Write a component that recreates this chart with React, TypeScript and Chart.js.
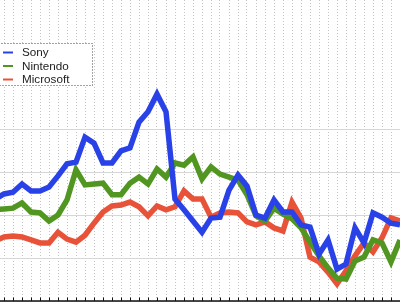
import React, { useEffect, useRef } from "react";
import { Chart, registerables } from "chart.js";

Chart.register(...registerables);

// Positions along the x axis (one step per period; -1 lies just off the left edge)
const periods: number[] = [
  -1, 0, 1, 2, 3, 4, 5, 6, 7, 8, 9, 10, 11, 12, 13, 14, 15, 16, 17, 18, 19, 20, 21,
  22, 23, 24, 25, 26, 27, 28, 29, 30, 31, 32, 33, 34, 35, 36, 37, 38, 39, 40, 41, 42, 43, 44,
];

const sony: number[] = [
  23.7, 24.9, 25.3, 27.2, 25.6, 25.6, 26.5, 29.1, 31.9, 32.3, 38.1, 36.7, 32.1, 32.1, 34.9,
  35.6, 41.6, 44.0, 48.1, 44.0, 23.7, 21.2, 18.6, 16.0, 19.3, 19.5, 25.8, 29.3, 26.7, 20.0,
  19.3, 23.5, 20.7, 20.7, 17.7, 17.2, 10.9, 14.2, 7.4, 8.6, 17.0, 13.5, 20.5, 19.5, 18.1, 17.7,
];

const nintendo: number[] = [
  21.2, 21.4, 21.6, 22.8, 20.7, 20.5, 18.6, 20.0, 23.5, 30.5, 27.0, 27.2, 27.4, 24.7, 24.7,
  27.4, 28.8, 27.2, 30.7, 28.8, 32.1, 31.6, 33.5, 28.4, 31.2, 29.5, 28.8, 28.1, 24.7, 19.8,
  18.6, 21.6, 20.2, 19.1, 17.0, 13.7, 10.5, 7.7, 5.3, 5.1, 9.3, 10.2, 14.2, 13.5, 9.1, 14.2,
];

const microsoft: number[] = [
  14.0, 14.9, 15.1, 14.9, 14.2, 13.5, 13.5, 16.0, 14.4, 13.7, 15.3, 18.1, 20.7, 22.1, 22.3,
  23.0, 21.9, 19.8, 22.1, 21.2, 21.9, 25.6, 23.7, 23.7, 19.5, 20.5, 20.7, 20.5, 18.4, 17.7,
  18.4, 17.0, 16.3, 23.0, 19.3, 10.2, 9.1, 6.7, 4.0, 7.0, 10.5, 13.5, 11.4, 14.7, 19.3, 18.6,
];

const seriesNames: string[] = ["Sony", "Nintendo", "Microsoft"];
const seriesColors: string[] = ["rgb(40,66,232)", "rgb(80,150,32)", "rgb(232,82,56)"];

const yGridValues: number[] = [0, 10, 20, 30, 40];
const xTickValues: number[] = periods.filter((p) => p >= 0);

const legendPlugin = {
  id: "boxedLegend",
  afterDraw(chart: any) {
    const ctx = chart.ctx as CanvasRenderingContext2D;
    ctx.save();
    const bx = -1.5;
    const by = 43.5;
    const bw = 94;
    const bh = 42;
    ctx.fillStyle = "#ffffff";
    ctx.fillRect(bx, by, bw, bh);
    ctx.strokeStyle = "#444";
    ctx.lineWidth = 1;
    ctx.setLineDash([1, 2]);
    ctx.strokeRect(bx, by, bw, bh);
    ctx.setLineDash([]);
    ctx.font = "11.7px 'Liberation Sans', Arial, sans-serif";
    ctx.textBaseline = "middle";
    chart.data.datasets.forEach((ds: any, i: number) => {
      const y = 52.5 + i * 13.5;
      ctx.strokeStyle = ds.borderColor;
      ctx.lineWidth = 2;
      ctx.beginPath();
      ctx.moveTo(3, y);
      ctx.lineTo(13, y);
      ctx.stroke();
      ctx.fillStyle = "#222";
      ctx.fillText(ds.label, 22, y + 0.5);
    });
    ctx.restore();
  },
};

const axisPlugin = {
  id: "innerTickAxis",
  afterDraw(chart: any) {
    const ctx = chart.ctx as CanvasRenderingContext2D;
    const xs = chart.scales.x;
    const bottom = chart.chartArea.bottom;
    ctx.save();
    ctx.strokeStyle = "#111";
    ctx.lineWidth = 1.5;
    ctx.beginPath();
    ctx.moveTo(0, bottom);
    ctx.lineTo(chart.width, bottom);
    ctx.stroke();
    ctx.lineWidth = 1;
    ctx.beginPath();
    xs.ticks.forEach((t: any) => {
      const px = Math.round(xs.getPixelForValue(t.value)) + 0.5;
      ctx.moveTo(px, bottom - 3.5);
      ctx.lineTo(px, bottom);
    });
    ctx.stroke();
    ctx.restore();
  },
};

export default function App() {
  const canvasRef = useRef<HTMLCanvasElement | null>(null);

  useEffect(() => {
    if (!canvasRef.current) return;
    const values = [sony, nintendo, microsoft];
    const chart = new Chart(canvasRef.current, {
      type: "line",
      data: {
        datasets: values.map((vals, i) => ({
          label: seriesNames[i],
          data: vals.map((v, j) => ({ x: periods[j], y: v })),
          borderColor: seriesColors[i],
          backgroundColor: seriesColors[i],
          borderWidth: 5.5,
          pointRadius: 0,
          tension: 0,
          fill: false,
        })),
      },
      options: {
        animation: false,
        responsive: false,
        layout: { padding: { left: 0, right: 0, top: 0, bottom: 4 } },
        plugins: { legend: { display: false }, tooltip: { enabled: false } },
        scales: {
          x: {
            type: "linear",
            min: -4 / 9,
            max: 44,
            ticks: { display: false },
            grid: { color: "#c4c4c4", lineWidth: 1, drawTicks: false },
            border: { display: false, dash: [1, 2] },
            afterBuildTicks: (scale: any) => {
              scale.ticks = xTickValues.map((v) => ({ value: v }));
            },
          },
          y: {
            type: "linear",
            min: 0,
            max: 70,
            ticks: { display: false },
            grid: { color: "#d6d6d6", lineWidth: 1, drawTicks: false },
            border: { display: false },
            afterBuildTicks: (scale: any) => {
              scale.ticks = yGridValues.map((v) => ({ value: v }));
            },
          },
        },
      },
      plugins: [axisPlugin, legendPlugin],
    });
    return () => chart.destroy();
  }, []);

  return (
    <div style={{ position: "absolute", left: 0, top: 0, width: 400, height: 305, background: "#fff" }}>
      <canvas ref={canvasRef} width={400} height={305} style={{ display: "block" }} />
    </div>
  );
}
